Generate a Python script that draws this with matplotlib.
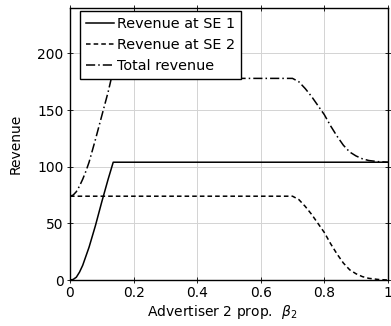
import numpy as np
import matplotlib
matplotlib.use('Agg')
import matplotlib.pyplot as plt

# Revenue at SE 1
beta_se1 = [0, 0.01, 0.02, 0.03, 0.04, 0.05, 0.06, 0.08, 0.10, 0.12, 0.136, 1.0]
rev_se1 = [0, 0.5, 2.5, 7, 13, 21, 29, 48, 69, 89, 104, 104]

# Revenue at SE 2
beta_se2 = [0, 0.70, 0.72, 0.74, 0.76, 0.78, 0.80, 0.82, 0.84, 0.86, 0.88, 0.90, 0.92, 0.94, 0.97, 1.0]
rev_se2 = [74, 74, 71, 65, 58, 50, 42, 32, 23, 15, 9, 5.5, 3, 1.5, 0.5, 0]

# Total revenue
beta_tot = [0, 0.01, 0.02, 0.03, 0.04, 0.05, 0.06, 0.08, 0.10, 0.12, 0.13,
            0.70, 0.72, 0.74, 0.76, 0.78, 0.80, 0.82, 0.84, 0.86, 0.88, 0.90, 0.92, 0.94, 0.97, 1.0]
rev_tot = [74, 75, 78, 83, 89, 96, 104, 124, 145, 166, 178,
           178, 175, 169, 162, 154, 146, 136, 127, 119, 113, 109.5, 107, 105.5, 104.5, 104]

fig = plt.figure(figsize=(3.91, 3.26), dpi=100)
ax = fig.add_axes([0.179, 0.141, 0.813, 0.834])

ax.plot(beta_se1, rev_se1, color='k', lw=1.1, label='Revenue at SE 1')
ax.plot(beta_se2, rev_se2, color='k', lw=1.1, ls=(0, (3, 2)), label='Revenue at SE 2')
ax.plot(beta_tot, rev_tot, color='k', lw=1.1, ls=(0, (6, 2, 1, 2)), label='Total revenue')

ax.set_xlim(0, 1)
ax.set_ylim(0, 240)
ax.set_xticks([0, 0.2, 0.4, 0.6, 0.8, 1])
ax.set_xticklabels(['0', '0.2', '0.4', '0.6', '0.8', '1'])
ax.set_yticks([0, 50, 100, 150, 200])
ax.grid(True, color='#d3d3d3', lw=0.7)
ax.set_axisbelow(True)
for s in ax.spines.values():
    s.set_linewidth(1.0)
ax.tick_params(direction='inout', length=5, width=0.6, top=True, right=True,
               labelsize=10, pad=2)

ax.set_xlabel(r'Advertiser 2 prop.  $\beta_2$', fontsize=10)
ax.xaxis.set_label_coords(0.48, -0.085)
ax.set_ylabel('Revenue', fontsize=10)
ax.yaxis.set_label_coords(-0.148, 0.5)

leg = ax.legend(loc='upper left', bbox_to_anchor=(0.031, 0.989), borderaxespad=0,
                fontsize=10.4, frameon=True, fancybox=False,
                edgecolor='k', framealpha=1, handlelength=1.95, handletextpad=0.25,
                borderpad=0.4, labelspacing=0.5)
leg.get_frame().set_linewidth(1.0)

fig.savefig('out.png', dpi=100)
